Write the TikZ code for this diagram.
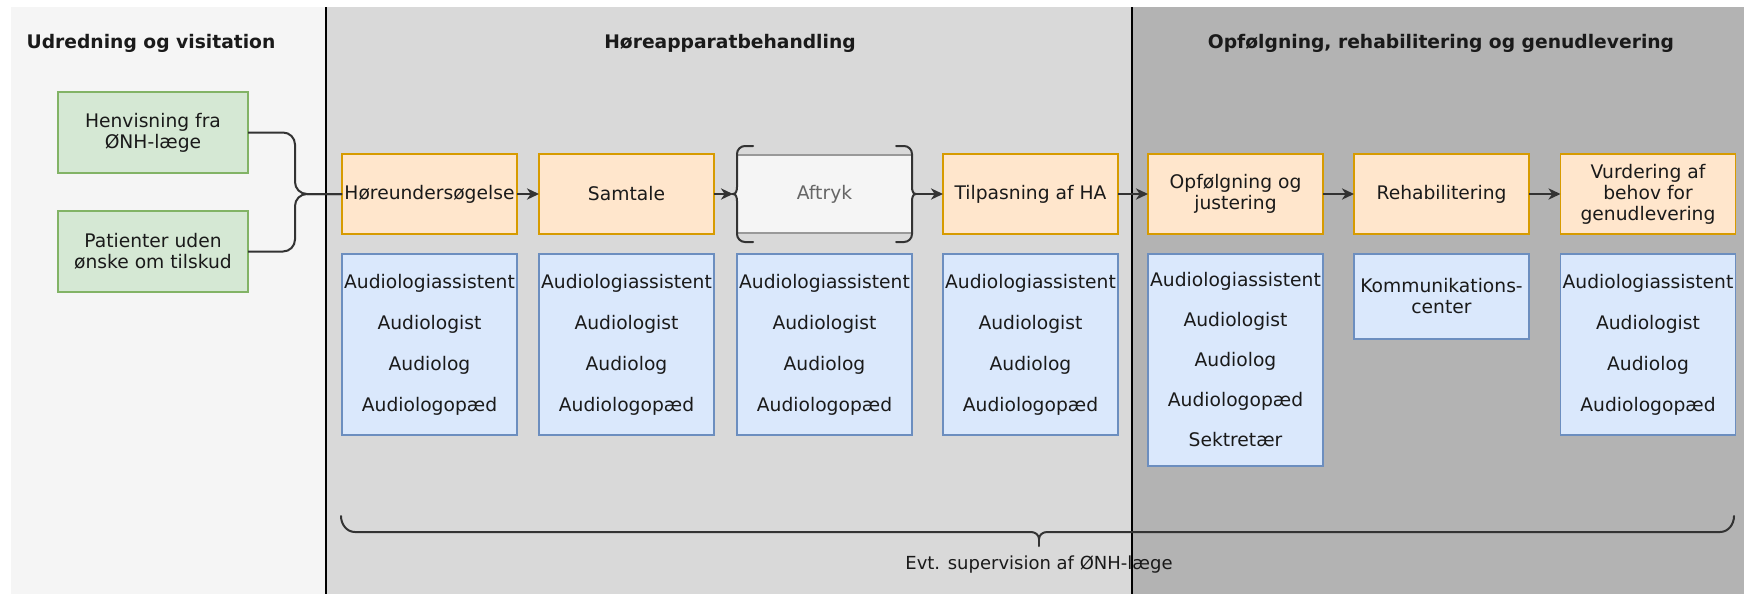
\documentclass[tikz,border=0pt]{standalone}
\usepackage{fontspec}
\setmainfont{DejaVu Sans}
\usetikzlibrary{arrows.meta}
\definecolor{lpanel}{HTML}{F5F5F5}
\definecolor{mpanel}{HTML}{D9D9D9}
\definecolor{rpanel}{HTML}{B3B3B3}
\definecolor{gfill}{HTML}{D5E8D4}
\definecolor{gline}{HTML}{82B366}
\definecolor{ofill}{HTML}{FFE6CC}
\definecolor{oline}{HTML}{D79B00}
\definecolor{bfill}{HTML}{DAE8FC}
\definecolor{bline}{HTML}{6C8EBF}
\definecolor{afill}{HTML}{F5F5F5}
\definecolor{aline}{HTML}{999999}
\definecolor{atext}{HTML}{666666}
\definecolor{ink}{HTML}{1A1A1A}
\definecolor{wire}{HTML}{333333}
\begin{document}
\begin{tikzpicture}[x=0.5pt,y=-0.5pt,
  every node/.style={inner sep=0pt, outer sep=0pt, text=ink, font=\fontsize{9.35}{10.5}\selectfont},
  boxbase/.style={draw, line width=0.75pt, align=center, minimum width=87.5pt},
  greenbox/.style={boxbase, fill=gfill, draw=gline, minimum width=95pt, minimum height=40.5pt},
  orangebox/.style={boxbase, fill=ofill, draw=oline, minimum height=40pt},
  bluebox/.style={boxbase, fill=bfill, draw=bline, font=\fontsize{9.35}{20.5}\selectfont},
  greybox/.style={boxbase, fill=afill, draw=none, minimum height=39pt, text=atext},
  title/.style={font=\fontsize{9.35}{10.5}\selectfont\bfseries},
  conn/.style={draw=wire, line width=1pt},
  arr/.style={conn, -{Stealth[length=6pt,width=5.6pt,inset=1.8pt]}},
  brc/.style={draw=wire, line width=1pt, line cap=round},
  sep/.style={draw=black, line width=0.75pt}
]
\useasboundingbox (0,0) rectangle (1744,594);
% panels
\fill[lpanel] (11,7) rectangle (326,594);
\fill[mpanel] (326,7) rectangle (1132,594);
\fill[rpanel] (1132,7) rectangle (1744,594);
\draw[sep] (326,7) -- (326,594);
\draw[sep] (1132,7) -- (1132,594);

% titles
\node[title] (t1) at (151,43) {Udredning og visitation};
\node[title] (t2) at (730,43) {Høreapparatbehandling};
\node[title] (t3) at (1441,43) {Opfølgning, rehabilitering og genudlevering};

% green boxes
\node[greenbox] (g1) at (153,132.5) {Henvisning fra\\ØNH-læge};
\node[greenbox] (g2) at (153,251.5) {Patienter uden\\ønske om tilskud};

% orange / process boxes
\node[orangebox] (h) at (429.5,194) {Høreundersøgelse};
\node[orangebox] (s) at (626.5,194) {Samtale};
\node[greybox] (a) at (824.5,194) {Aftryk};
\node[orangebox] (t) at (1030.5,194) {Tilpasning af HA};
\node[orangebox] (o) at (1235.5,194) {Opfølgning og\\justering};
\node[orangebox] (r) at (1441.5,194) {Rehabilitering};
\node[orangebox] (v) at (1648,194) {Vurdering af\\behov for\\genudlevering};

% Aftryk top/bottom edges
\draw[aline, line width=1pt] (a.north west) -- (a.north east);
\draw[aline, line width=1pt] (a.south west) -- (a.south east);

% brackets around Aftryk
\draw[brc] (753,146) -- (745,146) to[out=180,in=90] (737,154) -- (737,187)
  to[out=-90,in=0] (733,194) to[out=0,in=90] (737,201) -- (737,234)
  to[out=-90,in=180] (745,242) -- (753,242);
\draw[brc] (896,146) -- (904,146) to[out=0,in=90] (912,154) -- (912,187)
  to[out=-90,in=180] (916,194) to[out=180,in=90] (912,201) -- (912,234)
  to[out=-90,in=0] (904,242) -- (896,242);
\coordinate (al) at (733,194);
\coordinate (ar) at (916,194);

% blue boxes
\node[bluebox, minimum height=90.5pt] (b1) at (429.5,344.5) {Audiologiassistent\\Audiologist\\Audiolog\\Audiologopæd};
\node[bluebox, minimum height=90.5pt] (b2) at (626.5,344.5) {Audiologiassistent\\Audiologist\\Audiolog\\Audiologopæd};
\node[bluebox, minimum height=90.5pt] (b3) at (824.5,344.5) {Audiologiassistent\\Audiologist\\Audiolog\\Audiologopæd};
\node[bluebox, minimum height=90.5pt] (b4) at (1030.5,344.5) {Audiologiassistent\\Audiologist\\Audiolog\\Audiologopæd};
\node[bluebox, minimum height=106pt, font=\fontsize{9.35}{20}\selectfont] (b5) at (1235.5,360) {Audiologiassistent\\Audiologist\\Audiolog\\Audiologopæd\\Sektretær};
\node[bluebox, minimum height=42.5pt, font=\fontsize{9.35}{10.5}\selectfont] (b6) at (1441.5,296.5) {Kommunikations-\\center};
\node[bluebox, minimum height=90.5pt] (b7) at (1648,344.5) {Audiologiassistent\\Audiologist\\Audiolog\\Audiologopæd};

% connectors
\coordinate (j) at (295,194);
\draw[conn, rounded corners=6pt] (g1.east) -| (j) -- (h.west);
\draw[conn, rounded corners=6pt] (g2.east) -| (j) -- (h.west);
\draw[arr] (h) -- (s);
\draw[arr] (s.east) -- (al);
\draw[arr] (ar) -- (t.west);
\draw[arr] (t) -- (o);
\draw[arr] (o) -- (r);
\draw[arr] (r) -- (v);

% bottom brace
\draw[brc] (341,516) to[out=-90,in=180] (355,532) -- (1031,532)
  to[out=0,in=90] (1039,539) to[out=90,in=180] (1047,532) -- (1720,532)
  to[out=0,in=-90] (1734,516);
\draw[brc] (1039,539) -- (1039,546);
\node[font=\fontsize{9}{10.5}\selectfont] (sup) at (1039,565) {Evt. supervision af ØNH-læge};
\end{tikzpicture}
\end{document}
